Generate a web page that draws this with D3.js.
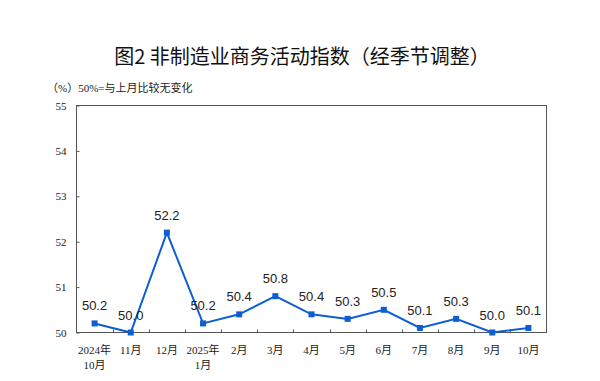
<!DOCTYPE html>
<html><head><meta charset="utf-8">
<script src="https://cdn.jsdelivr.net/npm/d3@7"></script>
<style>body{margin:0;background:#fff}</style>
</head><body><svg id="c" width="600" height="381"></svg>
<script>
const categories = ["2024年\n10月","11月","12月","2025年\n1月","2月","3月","4月","5月","6月","7月","8月","9月","10月"];
const values = [50.2,50.0,52.2,50.2,50.4,50.8,50.4,50.3,50.5,50.1,50.3,50.0,50.1];
const yTicks = [50,51,52,53,54,55];
const title = "图2  非制造业商务活动指数（经季节调整）";
const subtitle = "（%）50%=与上月比较无变化";

const svg = d3.select("#c");
const L=76.5, R=546.5, T=105.5, B=332.5;
const x = d3.scaleBand().domain(d3.range(categories.length)).range([L,R]);
const y = d3.scaleLinear().domain([50,55]).range([B,T]);
const serif = "'Liberation Serif','Noto Sans CJK SC',serif";
const blue = "#0b5fd3";

svg.append("text").attr("x",302).attr("y",64).attr("text-anchor","middle")
  .attr("font-family","'Noto Sans CJK SC',sans-serif").attr("font-size",20).attr("fill","#111").text(title);
svg.append("text").attr("x",47).attr("y",92)
  .attr("font-family",serif).attr("font-size",11).attr("fill","#222").text(subtitle);

svg.append("rect").attr("x",L).attr("y",T).attr("width",R-L).attr("height",B-T)
  .attr("fill","none").attr("stroke","#555").attr("stroke-width",1);

const ya = d3.axisLeft(y).tickValues(yTicks).tickFormat(d3.format("d")).tickSizeInner(-3).tickSizeOuter(0).tickPadding(10);
const gy = svg.append("g").attr("transform",`translate(${L},0)`).call(ya);
gy.select(".domain").remove();
gy.selectAll("line").attr("stroke","#555");
gy.selectAll("text").attr("font-family",serif).attr("font-size",11).attr("fill","#222");

// inner ticks at band boundaries
svg.append("g").selectAll("line").data(d3.range(1,categories.length)).join("line")
  .attr("x1",i=>Math.round(x(i))+0.5).attr("x2",i=>Math.round(x(i))+0.5)
  .attr("y1",B).attr("y2",B-3).attr("stroke","#555");
// x labels
const xl = svg.append("g").selectAll("text").data(categories).join("text")
  .attr("x",(d,i)=>x(i)+x.bandwidth()/2).attr("y",B+21).attr("text-anchor","middle")
  .attr("font-family",serif).attr("font-size",11).attr("fill","#222");
xl.each(function(d){
  const t=d3.select(this);
  d.split("\n").forEach((s,k)=>t.append("tspan").attr("x",t.attr("x")).attr("dy",k?15:0).text(s));
});

const cx = i=>x(i)+x.bandwidth()/2;
svg.append("path").datum(values).attr("fill","none").attr("stroke",blue).attr("stroke-width",2)
  .attr("d",d3.line().x((d,i)=>cx(i)).y(d=>y(d)));
svg.append("g").selectAll("rect").data(values).join("rect")
  .attr("x",(d,i)=>cx(i)-3).attr("y",d=>y(d)-3).attr("width",6).attr("height",6).attr("fill",blue);
svg.append("g").selectAll("text").data(values).join("text")
  .attr("x",(d,i)=>cx(i)).attr("y",d=>y(d)-13).attr("text-anchor","middle")
  .attr("font-family","'Liberation Sans',Arial,sans-serif").attr("font-size",13).attr("fill","#222")
  .text(d=>d.toFixed(1));
</script></body></html>
